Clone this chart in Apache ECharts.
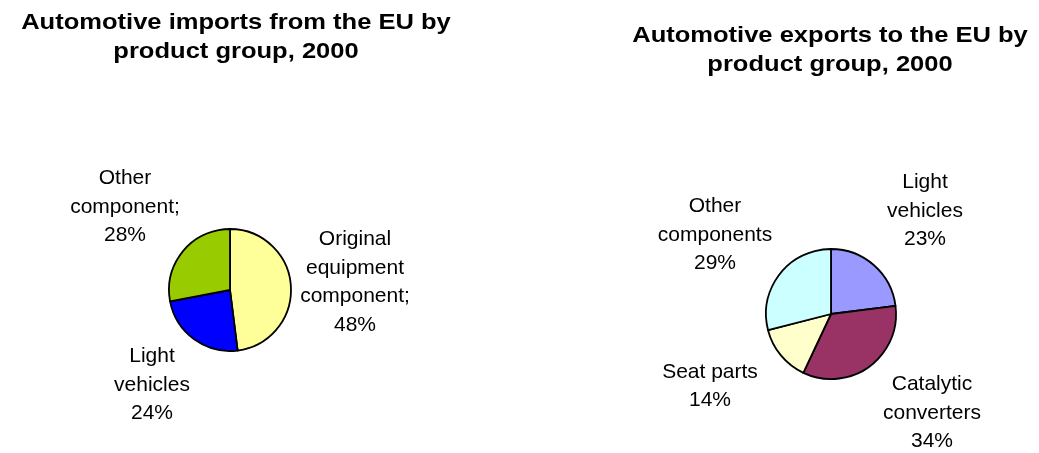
<!DOCTYPE html>
<html>
<head>
<meta charset="utf-8">
<script src="https://cdn.jsdelivr.net/npm/echarts@6/dist/echarts.min.js"></script>
<style>
  html, body { margin: 0; padding: 0; background: #ffffff; }
  #chart { width: 1039px; height: 453px; }
</style>
</head>
<body>
<div id="chart"></div>
<script>
// Automotive trade with the EU by product group, 2000 (shares in %)
const importTitle = 'Automotive imports from the EU by\nproduct group, 2000';
const exportTitle = 'Automotive exports to the EU by\nproduct group, 2000';

const importCategories = ['Original\nequipment\ncomponent;', 'Light\nvehicles', 'Other\ncomponent;'];
const importShares = [48, 24, 28];

const exportCategories = ['Light\nvehicles', 'Catalytic\nconverters', 'Seat parts', 'Other\ncomponents'];
const exportShares = [23, 34, 14, 29];

const importColors = ['#FFFF99', '#0000FF', '#99CC00'];
const exportColors = ['#9999FF', '#993366', '#FFFFCC', '#CCFFFF'];

// Label anchor points (centre of each label block), one per slice
const importLabelSpots = [[355, 282], [152, 385], [125, 207]];
const exportLabelSpots = [[925, 211], [932, 413], [710, 386], [715, 235]];

const FONT = '"Liberation Sans", Arial, sans-serif';

function toData(names, values, colors) {
  return names.map((n, i) => ({ name: n, value: values[i], itemStyle: { color: colors[i] } }));
}

function pieSeries(names, values, colors, center, radius, spots) {
  return {
    type: 'pie',
    center: center,
    radius: radius,
    startAngle: 90,
    clockwise: true,
    animation: false,
    silent: true,
    itemStyle: { borderColor: '#000000', borderWidth: 1.8 },
    label: {
      show: true,
      formatter: p => p.name + '\n' + p.value + '%',
      fontFamily: FONT,
      fontSize: 21,
      lineHeight: 28.5,
      color: '#000000',
      align: 'center'
    },
    labelLine: { show: false },
    labelLayout: p => ({
      x: spots[p.dataIndex][0],
      y: spots[p.dataIndex][1],
      align: 'center',
      verticalAlign: 'middle'
    }),
    emphasis: { disabled: true },
    data: toData(names, values, colors)
  };
}

// Bold, slightly widened two-line heading centred on (cx, top)
function heading(text, cx, top) {
  return {
    type: 'text',
    x: cx,
    y: top,
    scaleX: 1.16,
    silent: true,
    style: {
      text: text,
      fontFamily: FONT,
      fontSize: 22,
      fontWeight: 'bold',
      lineHeight: 29,
      fill: '#000000',
      textAlign: 'center',
      textVerticalAlign: 'top'
    }
  };
}

const chart = echarts.init(document.getElementById('chart'), null, { renderer: 'canvas' });
chart.setOption({
  backgroundColor: '#ffffff',
  graphic: [
    heading(importTitle, 236, 8),
    heading(exportTitle, 830, 21)
  ],
  series: [
    pieSeries(importCategories, importShares, importColors, [230, 290], 61, importLabelSpots),
    pieSeries(exportCategories, exportShares, exportColors, [831, 314], 65, exportLabelSpots)
  ]
});
</script>
</body>
</html>
